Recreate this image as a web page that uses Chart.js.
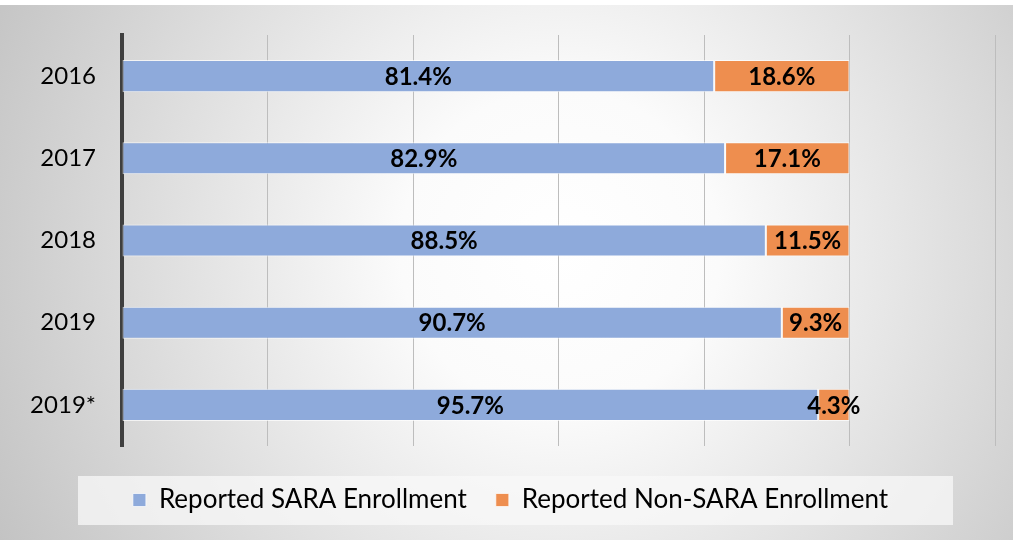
<!DOCTYPE html>
<html><head><meta charset="utf-8">
<script src="https://cdn.jsdelivr.net/npm/chart.js@4.4.1/dist/chart.umd.min.js"></script>
<style>html,body{margin:0;padding:0;background:#fff}#wrap{width:1013px;height:540px;position:relative}</style>
</head><body><div id="wrap"><canvas id="c" width="1013" height="540"></canvas></div>
<script>
const categories = ['2016', '2017', '2018', '2019', '2019*'];
const saraValues = [81.4, 82.9, 88.5, 90.7, 95.7];
const nonSaraValues = [18.6, 17.1, 11.5, 9.3, 4.3];
const seriesNames = ['Reported SARA Enrollment', 'Reported Non-SARA Enrollment'];
const xTicks = [0, 20, 40, 60, 80, 100, 120];

const FONT = 'Lato';

const bgPlugin = {
  id: 'bg',
  beforeDraw(chart) {
    const ctx = chart.ctx, w = chart.width, h = chart.height;
    ctx.save();
    ctx.fillStyle = '#ffffff';
    ctx.fillRect(0, 0, w, h);
    const g = ctx.createRadialGradient(560, 250, 0, 560, 250, 640);
    g.addColorStop(0, '#ffffff');
    g.addColorStop(0.25, '#fbfbfb');
    g.addColorStop(1, '#c2c2c2');
    ctx.fillStyle = g;
    ctx.fillRect(0, 5, w, h - 5);
    ctx.fillStyle = 'rgba(248,248,248,0.75)';
    ctx.fillRect(78, 476, 875, 49);
    ctx.restore();
  }
};

const legendShift = {
  id: 'legendShift',
  afterLayout(chart) {
    const lg = chart.legend;
    if (lg) { lg.left += 13; lg.right += 13; }
  }
};

const labelPlugin = {
  id: 'barLabels',
  afterDatasetsDraw(chart) {
    const ctx = chart.ctx;
    ctx.save();
    ctx.font = 'bold 24px ' + FONT;
    ctx.fillStyle = '#000';
    ctx.textAlign = 'center';
    ctx.textBaseline = 'middle';
    chart.data.datasets.forEach((ds, di) => {
      const meta = chart.getDatasetMeta(di);
      meta.data.forEach((bar, i) => {
        const p = bar.getProps(['x', 'y', 'base'], true);
        const cx = (p.x + p.base) / 2;
        ctx.fillText(ds.data[i].toFixed(1) + '%', cx, p.y + 1);
      });
    });
    ctx.restore();
  }
};

new Chart(document.getElementById('c'), {
  type: 'bar',
  data: {
    labels: categories,
    datasets: [
      { label: seriesNames[0], data: saraValues, backgroundColor: '#8eaadb', borderColor: 'rgba(255,255,255,0.7)', borderWidth: 1, borderSkipped: false },
      { label: seriesNames[1], data: nonSaraValues, backgroundColor: '#ee8e4f', borderColor: 'rgba(255,255,255,0.7)', borderWidth: 1, borderSkipped: false }
    ]
  },
  options: {
    indexAxis: 'y',
    responsive: false,
    animation: false,
    devicePixelRatio: 1,
    layout: { padding: { left: 0, right: 18, top: 35, bottom: 17 } },
    datasets: { bar: { categoryPercentage: 1, barPercentage: 0.39 } },
    scales: {
      x: {
        stacked: true, min: 0, max: 120,
        afterBuildTicks(s) { s.ticks = xTicks.map(v => ({ value: v })); },
        ticks: { display: false },
        grid: { color: '#bdbdbd', lineWidth: 1, drawTicks: false },
        border: { display: false },
        afterFit(s) { s.height = 12; s.paddingLeft = 0; s.paddingRight = 0; }
      },
      y: {
        stacked: true,
        grid: { display: false, drawTicks: false },
        border: { display: true, color: '#3f3f3f', width: 4 },
        ticks: { color: '#000', font: { family: FONT, size: 24 }, padding: 26 },
        afterFit(s) { s.width = 122; s.paddingTop = 0; s.paddingBottom = 0; }
      }
    },
    plugins: {
      legend: {
        position: 'bottom',
        labels: {
          font: { family: FONT, size: 26 },
          color: '#000',
          boxWidth: 13, boxHeight: 13,
          padding: 29,
          useBorderRadius: false
        }
      },
      tooltip: { enabled: false }
    }
  },
  plugins: [bgPlugin, legendShift, labelPlugin]
});
</script></body></html>
